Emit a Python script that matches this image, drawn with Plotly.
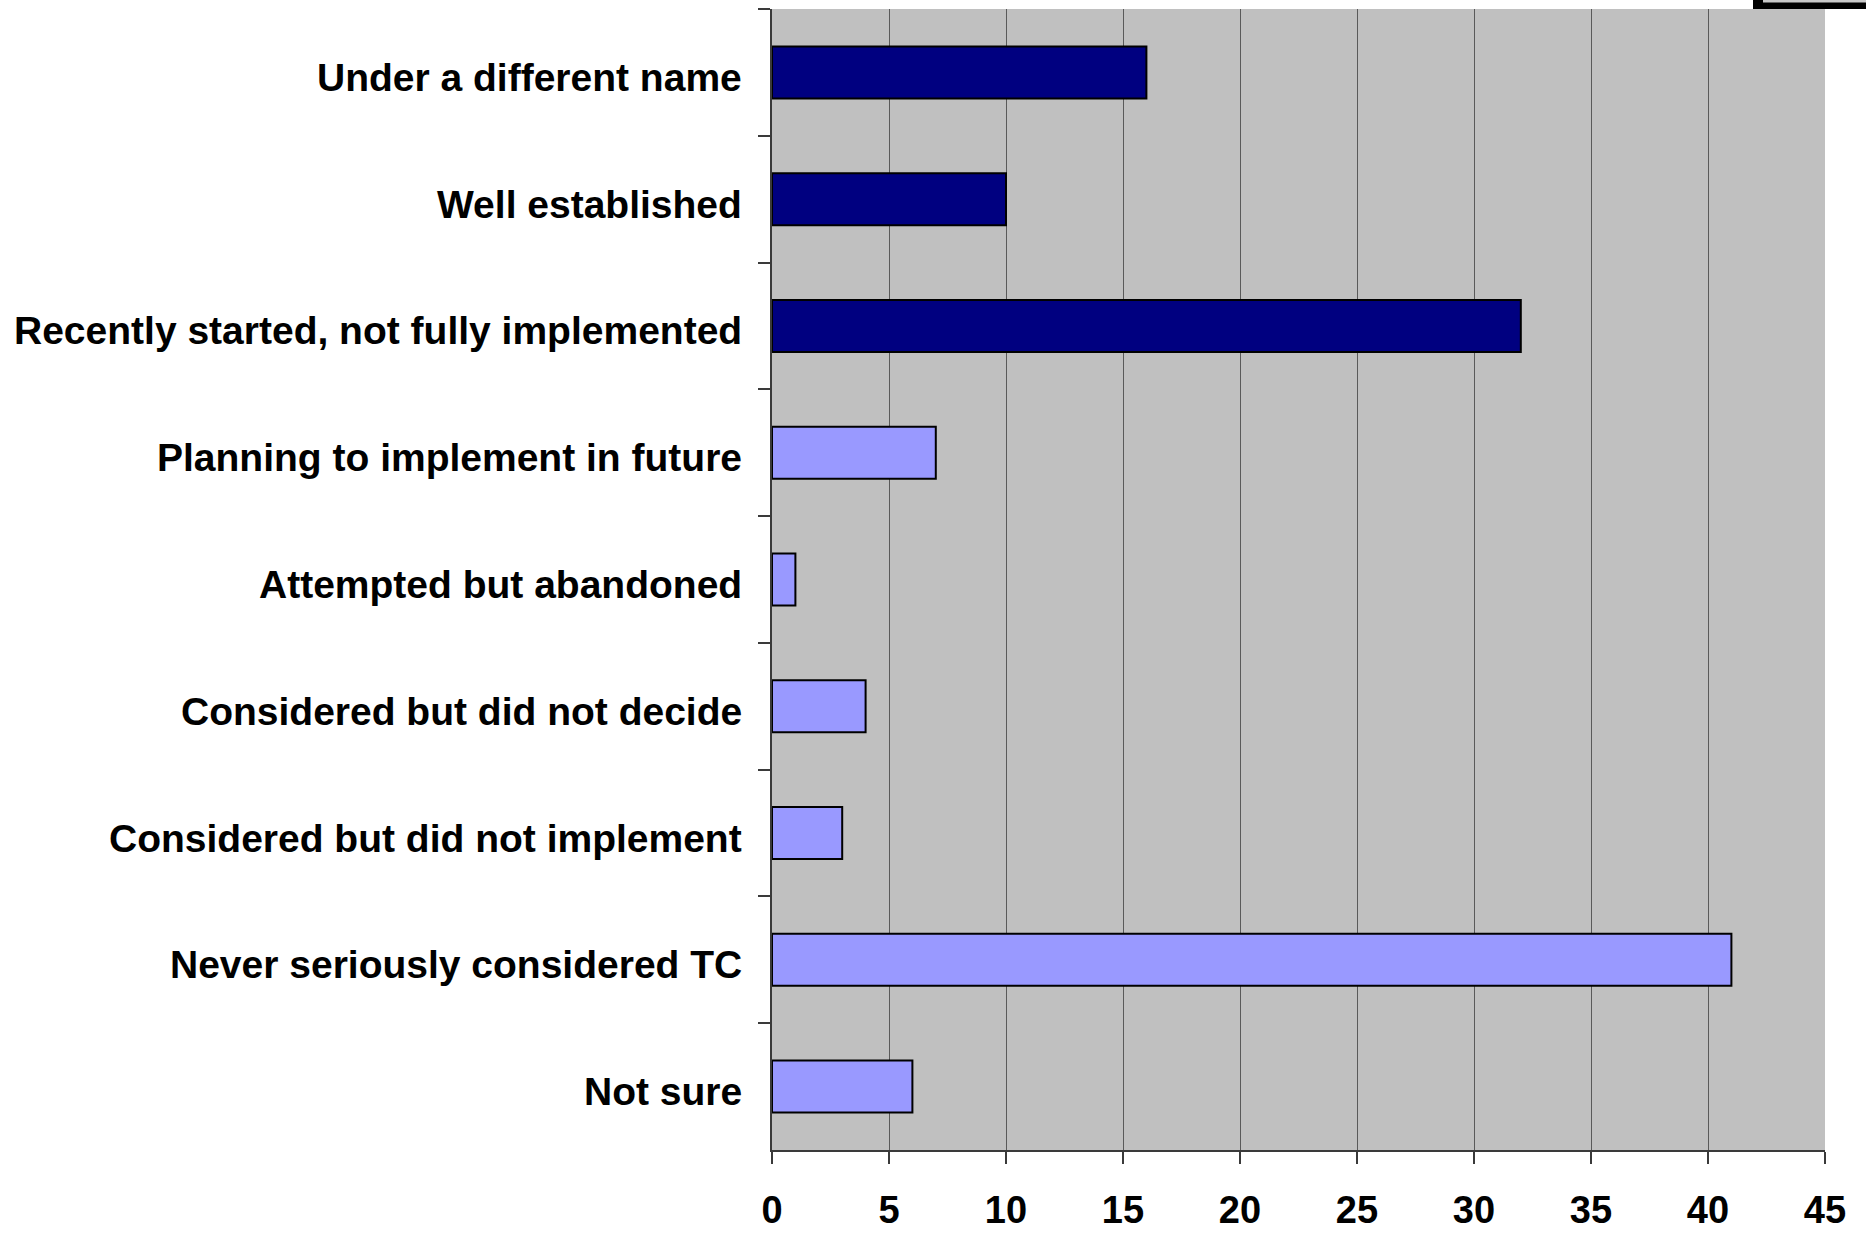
import plotly.graph_objects as go

# Survey responses: status of TC adoption
categories = [
    "Under a different name",
    "Well established",
    "Recently started, not fully implemented",
    "Planning to implement in future",
    "Attempted but abandoned",
    "Considered but did not decide",
    "Considered but did not implement",
    "Never seriously considered TC",
    "Not sure",
]
counts = [16, 10, 32, 7, 1, 4, 3, 41, 6]
# first three categories are those where TC is in place
in_place = [True, True, True, False, False, False, False, False, False]

x_ticks = [0, 5, 10, 15, 20, 25, 30, 35, 40, 45]

W, H = 1866, 1235
L, R, T, B = 772, 41, 9, 85
pw, ph = W - L - R, H - T - B

DARK = "#000080"
LIGHT = "#9999FF"

fig = go.Figure()
for flag, color in [(True, DARK), (False, LIGHT)]:
    ys = [c for c, f in zip(categories, in_place) if f == flag]
    xs = [v for v, f in zip(counts, in_place) if f == flag]
    fig.add_trace(go.Bar(
        x=xs, y=ys, orientation="h",
        marker=dict(color=color, line=dict(color="#000000", width=2)),
        showlegend=False,
    ))

font_family = "Liberation Sans, Arial, sans-serif"
FS = 39

# category labels, set slightly below each bar's centre line
annotations = [
    dict(text=c, x=0, xref="paper", y=c, yref="y",
         xanchor="right", yanchor="middle", xshift=-28, yshift=-5,
         showarrow=False,
         font=dict(family=font_family, size=FS, color="#000000", weight="bold"))
    for c in categories
]

# fragment of a frame peeking in at the top-right corner
def px_x(p):
    return (p - L) / pw

def px_y(p):
    return (H - B - p) / ph

shapes = [
    dict(type="rect", xref="paper", yref="paper",
         x0=px_x(1753), x1=px_x(1870), y0=px_y(9), y1=px_y(-2),
         fillcolor="#000000", line=dict(width=0), layer="above"),
    dict(type="rect", xref="paper", yref="paper",
         x0=px_x(1763), x1=px_x(1870), y0=px_y(2.5), y1=px_y(-2),
         fillcolor="#C8C8C8", line=dict(width=0), layer="above"),
]

fig.update_layout(
    width=W, height=H,
    margin=dict(l=L, r=R, t=T, b=B, pad=0, autoexpand=False),
    paper_bgcolor="#FFFFFF",
    plot_bgcolor="#C0C0C0",
    barmode="overlay",
    bargap=0.59,
    font=dict(family=font_family, size=FS, color="#000000"),
    shapes=shapes,
    annotations=annotations,
    xaxis=dict(
        range=[0, 45],
        tickmode="array", tickvals=x_ticks, ticktext=[str(v) for v in x_ticks],
        showgrid=True, gridcolor="#5A5A5A", gridwidth=1,
        showline=True, linecolor="#3A3A3A", linewidth=1.5,
        ticks="outside", ticklen=12, tickcolor="#3A3A3A", tickwidth=1.5,
        tickfont=dict(family=font_family, size=38, color="#000000", weight="bold"),
        ticklabelstandoff=14,
        automargin=False,
        zeroline=False, fixedrange=True,
    ),
    yaxis=dict(
        type="category",
        categoryorder="array", categoryarray=categories,
        autorange="reversed",
        showgrid=False,
        showline=True, linecolor="#3A3A3A", linewidth=1.5,
        ticks="outside", ticklen=12, tickcolor="#3A3A3A", tickwidth=1.5,
        tickson="boundaries",
        showticklabels=False,
        automargin=False,
        fixedrange=True,
    ),
)

fig.write_html("out.html")
